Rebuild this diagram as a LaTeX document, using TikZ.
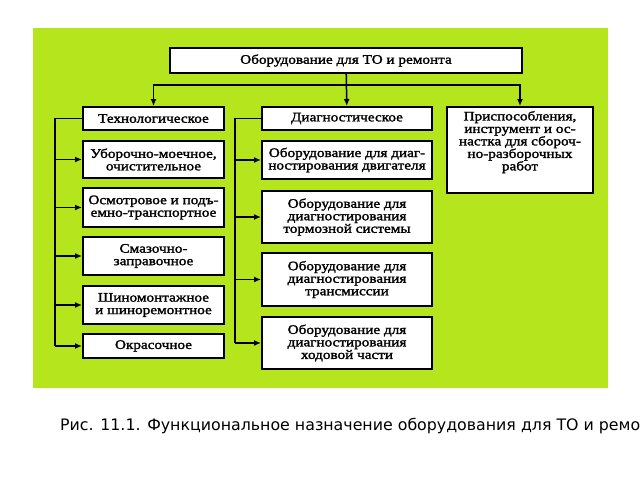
\documentclass[tikz,border=0pt]{standalone}
\usepackage{fontspec}
\setmainfont{Liberation Serif}
\newfontfamily\boxfont[FakeStretch=1.17,FakeBold=1.8]{Liberation Serif}
\newfontfamily\capfont{DejaVu Sans}
\usetikzlibrary{arrows.meta}
\definecolor{lime}{RGB}{181,230,29}
\tikzset{
  box/.style={draw, line width=2pt, fill=white, align=center, inner sep=1pt,
    font=\boxfont\fontsize{13}{12.5}\selectfont},
  link/.style={line width=1.5pt}
}
\begin{document}
\begin{tikzpicture}[x=1pt,y=-1pt,>={Latex[length=7pt,width=6pt]}]
                \useasboundingbox (0,0) rectangle (640,480);
                \fill[lime] (33,28) rectangle (608,388);

                \node[box, minimum width=352pt, minimum height=25pt] (top) at (346,60.5) {Оборудование для ТО и ремонта};
                \node[box, minimum width=141pt, minimum height=23pt] (tech) at (153.5,118.5) {Технологическое};
                \node[box, minimum width=170pt, minimum height=23pt] (diag) at (347,118.5) {Диагностическое};
                \node[box, minimum width=146pt, minimum height=86pt] (prisp) at (520,150) {Приспособления,\\ инструмент и ос-\\ настка для сбороч-\\ но-разборочных\\ работ\\[6pt]};

                \node[box, minimum width=141pt, minimum height=37pt] (ubor) at (153.5,159.5) {Уборочно-моечное,\\ очистительное};
                \node[box, minimum width=141pt, minimum height=39pt] (osm) at (153.5,207.5) {Осмотровое и подъ-\\ емно-транспортное};
                \node[box, minimum width=141pt, minimum height=38pt] (smaz) at (153.5,256) {Смазочно-\\ заправочное};
                \node[box, minimum width=141pt, minimum height=38pt] (shin) at (153.5,305) {Шиномонтажное\\ и шиноремонтное};
                \node[box, minimum width=141pt, minimum height=24pt] (okr) at (153.5,346) {Окрасочное};

                \node[box, minimum width=170pt, minimum height=38pt] (dvig) at (347,160) {Оборудование для диаг-\\ ностирования двигателя};
                \node[box, minimum width=170pt, minimum height=52pt] (torm) at (347,217) {Оборудование для\\ диагностирования\\ тормозной системы};
                \node[box, minimum width=170pt, minimum height=53pt] (trans) at (347,279.5) {Оборудование для\\ диагностирования\\ трансмиссии};
                \node[box, minimum width=170pt, minimum height=52pt] (hod) at (347,343) {Оборудование для\\ диагностирования\\ ходовой части};

                \node[anchor=base west, inner sep=0pt, font=\capfont\fontsize{15.8}{15.8}\selectfont] (cap) at (60,430) {Рис. 11.1. Функциональное назначение оборудования для ТО и ремонта};

                \coordinate (split) at (346,85);
                \coordinate (lbus) at (55,346);
                \coordinate (rbus) at (235,343);

                \draw[link,->] (top) to (diag); \draw[link,->] (split) -| (tech); \draw[link,->] (split) -| (prisp);
                \draw[link] (tech.west) -| (lbus); \draw[link] (diag.west) -| (rbus);
                \draw[link,->] (lbus |- ubor.west) to (ubor.west); \draw[link,->] (lbus |- osm.west) to (osm.west);
                \draw[link,->] (lbus |- smaz.west) to (smaz.west); \draw[link,->] (lbus |- shin.west) to (shin.west);
                \draw[link,->] (lbus |- okr.west) to (okr.west);
                \draw[link,->] (rbus |- dvig.west) to (dvig.west); \draw[link,->] (rbus |- torm.west) to (torm.west);
                \draw[link,->] (rbus |- trans.west) to (trans.west); \draw[link,->] (rbus |- hod.west) to (hod.west);
            \end{tikzpicture}
\end{document}
